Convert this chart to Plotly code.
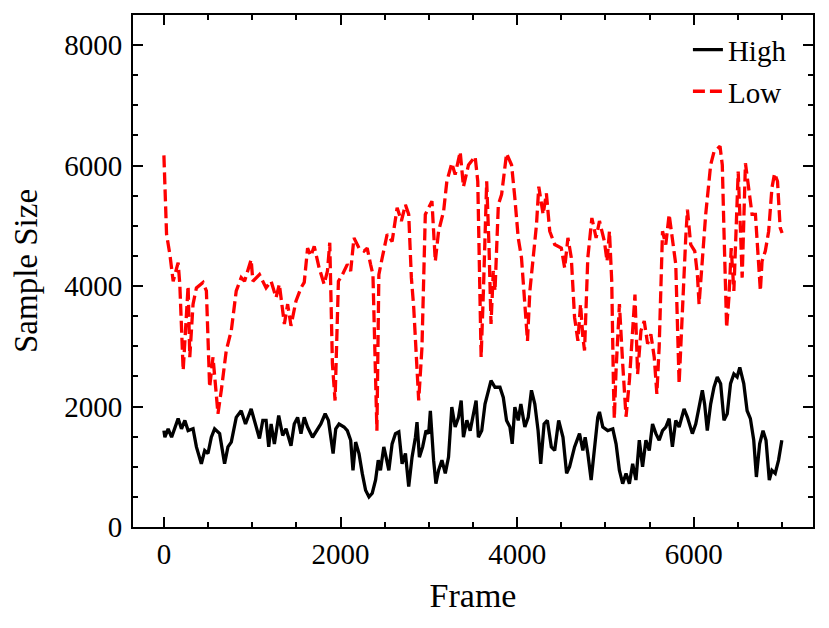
import plotly.graph_objects as go

frames_high = [0, 11, 48, 87, 161, 199, 237, 274, 330, 368, 424, 462, 499, 537, 574, 631, 687, 725, 763, 819,
               875, 924, 988, 1045, 1082, 1120, 1157, 1187, 1214, 1251, 1300, 1345, 1383, 1439, 1476, 1514, 1552,
               1589, 1627, 1683, 1739, 1777, 1826, 1863, 1890, 1916, 1946, 1983, 2040, 2077, 2115, 2141, 2171,
               2209, 2246, 2284, 2322, 2359, 2397, 2427, 2452, 2490, 2516, 2547, 2584, 2622, 2660, 2697, 2735,
               2772, 2810, 2848, 2866, 2893, 2930, 2968, 2998, 3017, 3054, 3080, 3110, 3148, 3186, 3223, 3260,
               3298, 3336, 3366, 3392, 3430, 3468, 3505, 3535, 3561, 3599, 3636, 3674, 3704, 3749, 3805, 3843,
               3880, 3918, 3944, 3974, 4012, 4042, 4087, 4125, 4162, 4200, 4237, 4267, 4305, 4342, 4387, 4425,
               4470, 4519, 4560, 4594, 4630, 4650, 4706, 4744, 4770, 4800, 4838, 4875, 4913, 4932, 4970, 5026,
               5083, 5120, 5158, 5195, 5233, 5271, 5308, 5345, 5383, 5420, 5458, 5496, 5533, 5571, 5608, 5646,
               5683, 5721, 5758, 5796, 5834, 5890, 5928, 5984, 6022, 6060, 6097, 6123, 6153, 6191, 6229, 6266,
               6304, 6342, 6379, 6416, 6454, 6491, 6521, 6566, 6604, 6641, 6679, 6709, 6746, 6784, 6818, 6855,
               6885, 6922, 6960, 6997]
high = [1600, 1490, 1630, 1490, 1800, 1630, 1770, 1600, 1630, 1330, 1050, 1270, 1220, 1490, 1630, 1550, 1050,
        1330, 1410, 1820, 1930, 1710, 1960, 1630, 1470, 1770, 1770, 1330, 1710, 1380, 1850, 1520, 1630, 1350,
        1710, 1820, 1550, 1820, 1660, 1490, 1630, 1710, 1880, 1770, 1490, 1220, 1630, 1710, 1660, 1600, 1440,
        940, 1410, 1220, 890, 610, 500, 560, 780, 1110, 940, 1330, 1160, 940, 1380, 1550, 1580, 1050, 1220,
        670, 1160, 1490, 1740, 1160, 1330, 1600, 1550, 1930, 1110, 720, 940, 1110, 890, 1160, 1990, 1660,
        1820, 2100, 1490, 1770, 1600, 1880, 2100, 1490, 1600, 2040, 2270, 2430, 2320, 2320, 2150, 1770, 1660,
        1380, 1990, 1770, 2040, 1660, 1820, 2270, 2040, 1600, 1050, 1710, 1770, 1330, 1270, 1770, 1490, 890,
        1000, 1250, 1330, 1550, 1270, 1490, 1220, 780, 1270, 1820, 1910, 1660, 1600, 1630, 1380, 940, 720,
        890, 720, 1050, 780, 1440, 1000, 1440, 1270, 1710, 1550, 1440, 1600, 1660, 1800, 1330, 1770, 1660,
        1960, 1820, 1550, 1710, 1990, 2270, 2040, 1600, 2040, 2320, 2490, 2380, 1770, 1880, 2380, 2540, 2490,
        2650, 2380, 1930, 1800, 1440, 830, 1380, 1600, 1440, 780, 940, 890, 1110, 1440]

frames_low = [0, 30, 68, 105, 161, 180, 218, 274, 293, 330, 368, 443, 481, 499, 518, 556, 612, 650, 706, 763,
              819, 875, 913, 988, 1007, 1082, 1157, 1214, 1270, 1307, 1364, 1401, 1439, 1495, 1552, 1589, 1627,
              1664, 1702, 1758, 1814, 1852, 1878, 1908, 1938, 1976, 2021, 2077, 2115, 2152, 2209, 2265, 2302,
              2340, 2367, 2412, 2434, 2472, 2528, 2584, 2641, 2689, 2735, 2772, 2802, 2829, 2866, 2885, 2922,
              2960, 2998, 3035, 3073, 3110, 3167, 3204, 3260, 3298, 3355, 3392, 3449, 3524, 3554, 3580, 3592,
              3618, 3655, 3682, 3704, 3730, 3749, 3787, 3824, 3880, 3937, 3974, 4012, 4049, 4087, 4117, 4144,
              4181, 4219, 4245, 4294, 4331, 4369, 4425, 4500, 4538, 4575, 4613, 4650, 4688, 4718, 4744, 4763,
              4800, 4846, 4894, 4932, 4988, 5018, 5045, 5071, 5090, 5100, 5120, 5158, 5195, 5233, 5271, 5308,
              5334, 5364, 5402, 5439, 5477, 5514, 5552, 5582, 5608, 5646, 5683, 5721, 5758, 5796, 5834, 5871,
              5909, 5928, 5965, 6011, 6041, 6060, 6097, 6135, 6191, 6229, 6297, 6323, 6342, 6361, 6372, 6398,
              6424, 6454, 6484, 6503, 6529, 6548, 6585, 6623, 6660, 6698, 6735, 6754, 6773, 6810, 6848, 6885,
              6915, 6948, 6978, 7000]
low = [6170, 4860, 4520, 4080, 4390, 4030, 2600, 4000, 2820, 3700, 3970, 4060, 3920, 2930, 2320, 2820, 1880,
       2270, 2930, 3260, 3920, 4140, 4080, 4440, 4080, 4190, 3970, 4080, 3810, 4030, 3370, 3700, 3340, 3750,
       3970, 4060, 4630, 4500, 4660, 4300, 4030, 4250, 4720, 2710, 2100, 4080, 4190, 4360, 4250, 4800, 4630,
       4580, 4630, 4360, 4190, 1600, 4190, 4470, 4860, 4740, 5300, 5080, 5350, 5190, 4140, 3640, 2710, 2100,
       2980, 5190, 5300, 5410, 4410, 4910, 5240, 5740, 6040, 5850, 6230, 5650, 6010, 6150, 5740, 4080, 2820,
       3920, 5740, 4630, 3370, 4250, 3920, 5350, 5520, 6200, 6010, 5460, 4800, 4470, 3640, 3090, 3920, 4470,
       5020, 5650, 5190, 5540, 4910, 4690, 4630, 4300, 4800, 4470, 3480, 3090, 3700, 3150, 2930, 4470, 5130,
       4800, 5080, 4740, 4410, 4910, 4080, 2380, 1800, 2600, 3700, 2710, 1830, 2430, 3260, 3860, 2540, 3260,
       3420, 3040, 3200, 2820, 2210, 2980, 4910, 4690, 5190, 4800, 4360, 2380, 3700, 4800, 5270, 4690, 4580,
       4190, 3700, 4360, 5190, 6010, 6230, 6320, 6010, 4910, 3920, 3310, 3810, 4630, 3920, 5190, 5900, 4910,
       4140, 6040, 5570, 5190, 5190, 4360, 3920, 4410, 4580, 4910, 5630, 5870, 5740, 4970, 4880]

FONT = "Liberation Serif"

fig = go.Figure()
fig.add_trace(go.Scatter(x=frames_high, y=high, mode="lines", name="High", legendgroup="high",
                         line=dict(color="black", width=3.3)))
fig.add_trace(go.Scatter(x=frames_low, y=low, mode="lines", name="Low", legendgroup="low",
                         line=dict(color="#ff0000", width=3.3, dash="12px,5px")))

axis_common = dict(
    showgrid=False, zeroline=False, showline=True, linecolor="black", linewidth=2,
    mirror="allticks", ticks="inside", ticklen=10, tickwidth=2, tickcolor="black",
    tickfont=dict(family=FONT, size=29, color="black"),
    minor=dict(ticks="inside", ticklen=5, tickwidth=1.5, tickcolor="black", dtick=500, showgrid=False),
)

fig.update_layout(
    width=829, height=628,
    paper_bgcolor="white", plot_bgcolor="white",
    margin=dict(l=125, r=24, t=5, b=109),
    font=dict(family=FONT, color="black"),
    xaxis=dict(range=[-350, 7350], tick0=0, dtick=2000,
               title=dict(text="Frame", font=dict(family=FONT, size=34), standoff=14),
               **axis_common),
    yaxis=dict(range=[0, 8500], tick0=0, dtick=2000, ticklabelstandoff=3,
               title=dict(text="Sample Size", font=dict(family=FONT, size=33), standoff=22),
               **axis_common),
    showlegend=True,
    legend=dict(x=0.969, y=0.982, xanchor="right", yanchor="top",
                bgcolor="rgba(0,0,0,0)", borderwidth=0,
                font=dict(family=FONT, size=29, color="black"),
                tracegroupgap=1),
)

fig.write_html("out.html")
